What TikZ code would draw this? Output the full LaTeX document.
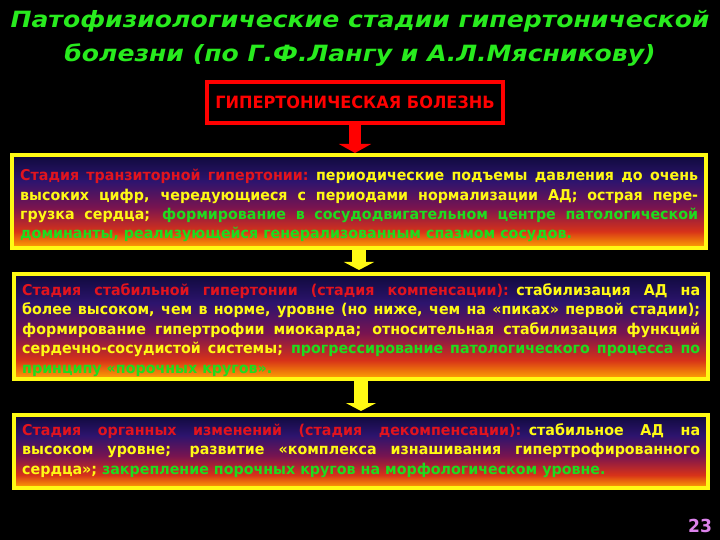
\documentclass[tikz,border=0pt]{standalone}
\usepackage{fontspec}
\setmainfont{Liberation Sans}
\newfontfamily\bodyfont[FakeStretch=1.06]{DejaVu Sans Condensed}
\newfontfamily\titlefont[FakeStretch=1.12]{DejaVu Sans}
\usetikzlibrary{arrows.meta}
\definecolor{sred}{RGB}{225,20,30}
\definecolor{syel}{RGB}{255,250,20}
\definecolor{sgreen}{RGB}{30,220,30}
\definecolor{tgreen}{RGB}{40,235,30}
\definecolor{pagepink}{RGB}{220,130,235}
\definecolor{g0}{RGB}{255,170,0}
\definecolor{g1}{RGB}{215,50,25}
\definecolor{g2}{RGB}{120,20,80}
\definecolor{g3}{RGB}{45,20,110}
\definecolor{g4}{RGB}{15,10,60}
\pgfdeclareverticalshading{stageshade}{100bp}{color(0bp)=(g0); color(25bp)=(g0); color(34bp)=(g1); color(47bp)=(g2); color(61bp)=(g3); color(75bp)=(g4); color(100bp)=(g4)}
\newcommand{\jl}[1]{\hbox to 678bp{\spaceskip=\fontdimen2\font plus 1fil\relax #1}}
\begin{document}
\begin{tikzpicture}[x=1bp,y=-1bp,
  titlestyle/.style={text=tgreen, font=\titlefont\bfseries\itshape\fontsize{22.5}{22.5}\selectfont, inner sep=0},
  stagebox/.style={draw=syel, line width=4bp, shading=stageshade, inner sep=0, minimum width=694bp},
  bodytext/.style={anchor=north west, inner sep=0, text width=678bp, text=syel,
    font=\bodyfont\bfseries\fontsize{15}{19.5}\selectfont},
  redarrow/.style={draw=red, line width=12bp, -{Triangle[width=32bp,length=9bp,fill=red]}},
  yelarrow/.style={draw=syel, line width=14bp, -{Triangle[width=30bp,length=8bp,fill=syel]}, shorten >=2bp}
]
\fill[black] (0,0) rectangle (720,540);
\useasboundingbox (0,0) rectangle (720,540);

\node[titlestyle] (t1) at (360,21) {Патофизиологические стадии гипертонической};
\node[titlestyle] (t2) at (360,55) {болезни (по Г.Ф.Лангу и А.Л.Мясникову)};

\node[draw=red, line width=4bp, fill=black, minimum width=296bp, minimum height=41bp, inner sep=0,
  text=red, font=\bodyfont\bfseries\fontsize{17}{17}\selectfont] (hb) at (355,102.5) {ГИПЕРТОНИЧЕСКАЯ БОЛЕЗНЬ};

\node[stagebox, minimum height=93bp] (b1) at (359,201.5) {};
\node[stagebox, minimum height=105bp] (b2) at (361,326.5) {};
\node[stagebox, minimum height=73bp] (b3) at (361,451.5) {};

\draw[redarrow] (hb.south) -- (hb.south |- b1.north);
\draw[yelarrow] (b1.south) -- (b1.south |- b2.north);
\draw[yelarrow] (b2.south) -- (b2.south |- b3.north);

\node[bodytext] (x1) at (20,169) {%
\jl{\textcolor{sred}{Стадия транзиторной гипертонии:} периодические подъемы давления до очень}\par
\jl{высоких цифр, чередующиеся с периодами нормализации АД; острая пере-}\par
\jl{грузка сердца; \textcolor{sgreen}{формирование в сосудодвигательном центре патологической}}\par
\hbox{\textcolor{sgreen}{доминанты, реализующейся генерализованным спазмом сосудов.}}};

\node[bodytext] (x2) at (22,283.5) {%
\jl{\textcolor{sred}{Стадия стабильной гипертонии (стадия компенсации):} стабилизация АД на}\par
\jl{более высоком, чем в норме, уровне (но ниже, чем на «пиках» первой стадии);}\par
\jl{формирование гипертрофии миокарда; относительная стабилизация функций}\par
\jl{сердечно-сосудистой системы; \textcolor{sgreen}{прогрессирование патологического процесса по}}\par
\hbox{\textcolor{sgreen}{принципу «порочных кругов».}}};

\node[bodytext] (x3) at (22,423.5) {%
\jl{\textcolor{sred}{Стадия органных изменений (стадия декомпенсации):} стабильное АД на}\par
\jl{высоком уровне; развитие «комплекса изнашивания гипертрофированного}\par
\hbox{сердца»; \textcolor{sgreen}{закрепление порочных кругов на морфологическом уровне.}}};

\node[text=pagepink, font=\bodyfont\bfseries\fontsize{18}{18}\selectfont, inner sep=0] (pg) at (700,526) {23};
\end{tikzpicture}
\end{document}
